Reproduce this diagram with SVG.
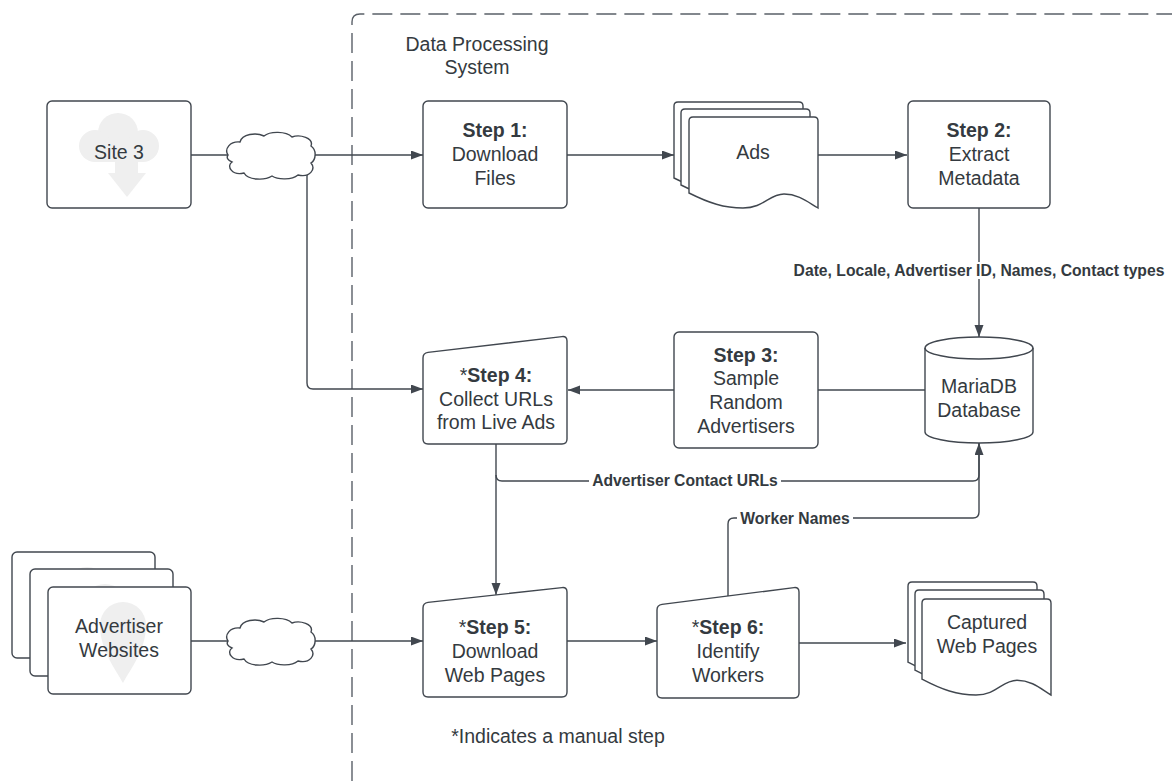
<svg xmlns="http://www.w3.org/2000/svg" xmlns:xlink="http://www.w3.org/1999/xlink" width="1172" height="781" viewBox="0 0 1172 781">
<style>
.t{font-family:"Liberation Sans",Arial,sans-serif;font-size:19.5px;fill:#343a40;text-anchor:middle}
.b{font-weight:bold}
.lbl{font-family:"Liberation Sans",Arial,sans-serif;font-size:15.7px;font-weight:bold;fill:#343a40;text-anchor:middle}
.sh{fill:#ffffff;stroke:#41474f;stroke-width:1.4}
.ic{fill:#efefef}
.c{fill:none;stroke:#41474f;stroke-width:1.4}
.bg{fill:#ffffff}
</style>
<defs>
<marker id="ah" markerUnits="userSpaceOnUse" markerWidth="13" markerHeight="10" refX="12" refY="4.5" orient="auto">
<path d="M0,0 L12,4.5 L0,9 Z" fill="#41474f"/>
</marker>
<path id="sheet" d="M0,76 V4 Q0,0 4,0 H125 Q129,0 129,4 V91 C120,86 110,77 95,77 C80,77 75,91 54,91 C35,91 20,86 0,76 Z"/>
<path id="cloud" d="M2,23 C-2,17 4,9 14,10 C16,2 30,0 38,4 C44,-1 60,-1 66,5 C74,2 88,6 85,14 C91,18 90,28 85,31 C90,37 84,46 72,43 C66,48 52,48 46,44 C38,49 22,48 18,41 C6,44 0,34 6,30 C2,28 0,26 2,23 Z"/>
<path id="pin" d="M0,59 C-8,44 -23,26 -23,1 A23,23 0 1 1 23,1 C23,26 8,44 0,59 Z"/>
</defs>

<!-- container -->
<g id="container">
<path d="M352,781 V22 Q352,14 360,14 H1172" fill="none" stroke="#5a6068" stroke-width="1.4" stroke-dasharray="20 8"/>
<text class="t" x="477" y="51">Data Processing</text>
<text class="t" x="477" y="74">System</text>
</g>

<!-- connectors -->
<g id="connectors">
<path class="c" d="M191,155 H228"/>
<path class="c" d="M314,155 H423" marker-end="url(#ah)"/>
<path class="c" d="M307,174 V383 Q307,389 313,389 H423" marker-end="url(#ah)"/>
<path class="c" d="M567,155 H674" marker-end="url(#ah)"/>
<path class="c" d="M818,155 H907" marker-end="url(#ah)"/>
<path class="c" d="M979,208 V337" marker-end="url(#ah)"/>
<path class="c" d="M925,390 H568" marker-end="url(#ah)"/>
<path class="c" d="M496,444 V595" marker-end="url(#ah)"/>
<path class="c" d="M496,475 Q496,481 502,481 H973 Q979,481 979,475 V443" marker-end="url(#ah)"/>
<path class="c" d="M728,596 V524 Q728,518 734,518 H973 Q979,518 979,512 V443"/>
<path class="c" d="M191,641 H228"/>
<path class="c" d="M314,641 H423" marker-end="url(#ah)"/>
<path class="c" d="M567,641 H657" marker-end="url(#ah)"/>
<path class="c" d="M799,643 H906" marker-end="url(#ah)"/>
<rect class="bg" x="789" y="262" width="381" height="17"/>
<text class="lbl" x="979" y="276">Date, Locale, Advertiser ID, Names, Contact types</text>
<rect class="bg" x="589" y="473" width="192" height="16"/>
<text class="lbl" x="685" y="486">Advertiser Contact URLs</text>
<rect class="bg" x="737" y="510" width="116" height="16"/>
<text class="lbl" x="795" y="524">Worker Names</text>
</g>

<!-- Site 3 -->
<g id="site3">
<rect class="sh" x="47" y="101" width="144" height="107" rx="5"/>
<circle class="ic" cx="118" cy="133" r="20"/>
<circle class="ic" cx="95" cy="146" r="16"/>
<circle class="ic" cx="143" cy="146" r="16"/>
<rect class="ic" x="95" y="140" width="48" height="22"/>
<rect class="ic" x="115" y="150" width="23" height="25"/>
<path class="ic" d="M108,173 H146 L127,197 Z"/>
<text class="t" x="119" y="159">Site 3</text>
</g>

<g id="cloud1"><use href="#cloud" xlink:href="#cloud" class="sh" transform="translate(226,132)"/></g>

<g id="step1">
<rect class="sh" x="423" y="101" width="144" height="107" rx="5"/>
<text class="t" x="495" y="137"><tspan class="b">Step 1:</tspan></text>
<text class="t" x="495" y="161">Download</text>
<text class="t" x="495" y="185">Files</text>
</g>

<g id="ads">
<use href="#sheet" xlink:href="#sheet" class="sh" transform="translate(674,102)"/>
<use href="#sheet" xlink:href="#sheet" class="sh" transform="translate(681,109)"/>
<use href="#sheet" xlink:href="#sheet" class="sh" transform="translate(689,117)"/>
<text class="t" x="753" y="159">Ads</text>
</g>

<g id="step2">
<rect class="sh" x="908" y="101" width="142" height="107" rx="5"/>
<text class="t" x="979" y="137"><tspan class="b">Step 2:</tspan></text>
<text class="t" x="979" y="161">Extract</text>
<text class="t" x="979" y="185">Metadata</text>
</g>

<g id="mariadb">
<path class="sh" d="M925,348 A54,11 0 0 1 1033,348 V432 A54,11 0 0 1 925,432 Z"/>
<path class="c" d="M925,348 A54,11 0 0 0 1033,348"/>
<text class="t" x="979" y="393">MariaDB</text>
<text class="t" x="979" y="417">Database</text>
</g>

<g id="step3">
<rect class="sh" x="674" y="332" width="144" height="116" rx="5"/>
<text class="t" x="746" y="362"><tspan class="b">Step 3:</tspan></text>
<text class="t" x="746" y="385">Sample</text>
<text class="t" x="746" y="409">Random</text>
<text class="t" x="746" y="433">Advertisers</text>
</g>

<g id="step4">
<path class="sh" d="M423,358 Q423,353 428,352.4 L562,336.6 Q567,336 567,341 V439 Q567,444 562,444 H428 Q423,444 423,439 Z"/>
<text class="t" x="496" y="382">*<tspan class="b">Step 4:</tspan></text>
<text class="t" x="496" y="406">Collect URLs</text>
<text class="t" x="496" y="429">from Live Ads</text>
</g>

<g id="advertiser-websites">
<rect class="sh" x="12" y="552" width="143" height="106" rx="5"/>
<use href="#pin" xlink:href="#pin" class="ic" transform="translate(87,589)"/>
<rect class="sh" x="30" y="569" width="143" height="107" rx="5"/>
<use href="#pin" xlink:href="#pin" class="ic" transform="translate(105,606)"/>
<rect class="sh" x="48" y="587" width="143" height="107" rx="5"/>
<use href="#pin" xlink:href="#pin" class="ic" transform="translate(123,624)"/>
<text class="t" x="119" y="633">Advertiser</text>
<text class="t" x="119" y="657">Websites</text>
</g>

<g id="cloud2"><use href="#cloud" xlink:href="#cloud" class="sh" transform="translate(226,618)"/></g>

<g id="step5">
<path class="sh" d="M423,608 Q423,603 428,602.4 L562,587.6 Q567,587 567,592 V692 Q567,697 562,697 H428 Q423,697 423,692 Z"/>
<text class="t" x="495" y="634">*<tspan class="b">Step 5:</tspan></text>
<text class="t" x="495" y="658">Download</text>
<text class="t" x="495" y="682">Web Pages</text>
</g>

<g id="step6">
<path class="sh" d="M657,610 Q657,605 662,604.4 L794,587.6 Q799,587 799,592 V693 Q799,698 794,698 H662 Q657,698 657,693 Z"/>
<text class="t" x="728" y="634">*<tspan class="b">Step 6:</tspan></text>
<text class="t" x="728" y="658">Identify</text>
<text class="t" x="728" y="682">Workers</text>
</g>

<g id="captured">
<use href="#sheet" xlink:href="#sheet" class="sh" transform="translate(908,582) scale(1,1.055)"/>
<use href="#sheet" xlink:href="#sheet" class="sh" transform="translate(915,590) scale(1,1.055)"/>
<use href="#sheet" xlink:href="#sheet" class="sh" transform="translate(922,599) scale(1,1.055)"/>
<text class="t" x="987" y="629">Captured</text>
<text class="t" x="987" y="653">Web Pages</text>
</g>

<g id="note">
<text class="t" x="558" y="743">*Indicates a manual step</text>
</g>
</svg>
